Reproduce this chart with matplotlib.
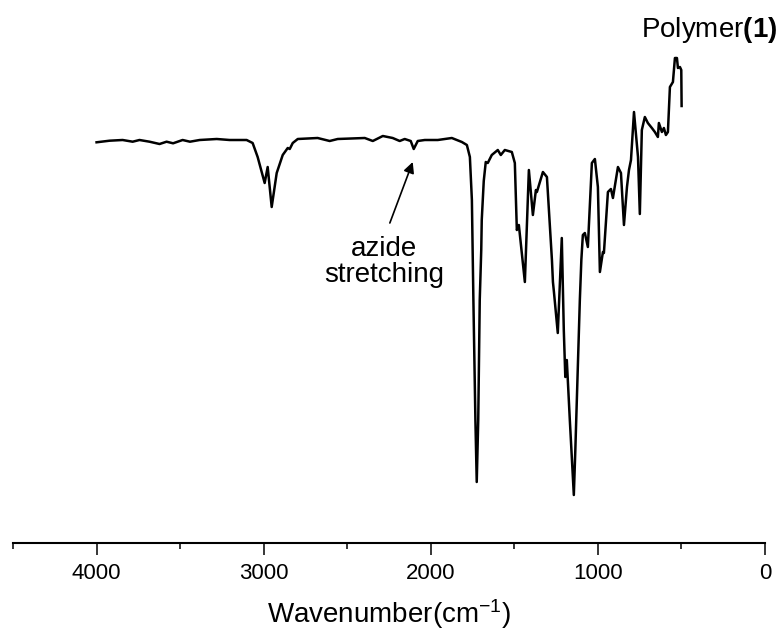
import matplotlib
matplotlib.use("Agg")
import matplotlib.pyplot as plt

plt.rcParams["font.family"] = ["Liberation Sans", "DejaVu Sans"]
plt.rcParams["mathtext.fontset"] = "custom"
plt.rcParams["mathtext.rm"] = "Liberation Sans"
plt.rcParams["mathtext.bf"] = "Liberation Sans:bold"
plt.rcParams["mathtext.it"] = "Liberation Sans:italic"
plt.rcParams["mathtext.default"] = "regular"

# IR spectrum of polymer (1) (arbitrary transmittance units)
wavenumber = [
    4000, 3922, 3844, 3784, 3743, 3683, 3623, 3581, 3542, 3485, 3441, 3383,
    3281, 3204, 3102, 3066, 3036, 2994, 2976, 2952, 2922, 2886, 2856, 2844,
    2826, 2796, 2677, 2605, 2557, 2395, 2347, 2287, 2228, 2186, 2156, 2120,
    2102, 2078, 2036, 1958, 1874, 1814, 1784, 1766, 1754, 1745, 1733, 1725,
    1716, 1707, 1698, 1695, 1683, 1671, 1659, 1635, 1599, 1581, 1557, 1515,
    1497, 1485, 1473, 1437, 1413, 1389, 1371, 1365, 1329, 1305, 1275, 1269,
    1263, 1240, 1216, 1204, 1195, 1186, 1168, 1144, 1135, 1126, 1117, 1108,
    1099, 1090, 1078, 1060, 1036, 1018, 1000, 988, 970, 964, 940, 922, 910,
    880, 862, 844, 826, 814, 802, 784, 760, 749, 737, 719, 701, 677, 659,
    641, 635, 617, 605, 593, 581, 569, 551, 539, 527, 521, 509, 501, 499,
]
transmittance = [
    400.7, 402.3, 403, 401.3, 403, 401.3, 399, 401.3, 399.7, 403, 401.3, 403,
    404, 403, 403, 400, 386, 360, 376, 336, 370, 388, 395, 394,
    400, 404, 405, 402, 404, 405, 402, 407, 405, 402, 404, 402,
    394, 402, 403, 403, 405, 401, 398, 386, 343, 243, 123, 61,
    123, 243, 293, 323, 362, 381, 380, 388, 393, 388, 393, 391,
    380, 313, 318, 261, 373, 328, 353, 351, 371, 366, 283, 261,
    251, 210, 305, 213, 166, 183, 123, 48, 93, 143, 193, 243,
    283, 308, 310, 296, 380, 384, 356, 271, 291, 290, 351, 354, 345,
    376, 370, 318, 356, 373, 383, 431, 386, 329, 413, 426, 420, 415, 411,
    406, 420, 411, 415, 408, 411, 456, 461, 485, 485, 475, 476, 473, 437,
]

fig = plt.figure(figsize=(7.82, 6.39), dpi=100)
ax = fig.add_axes([13 / 782, 96 / 639, 752 / 782, 543 / 639])
ax.plot(wavenumber, transmittance, color="black", lw=1.8)

ax.set_xlim(4500, 0)
ax.set_ylim(0, 543)
ax.set_xticks([4000, 3000, 2000, 1000, 0])
ax.set_xticks([4500, 3500, 2500, 1500, 500], minor=True)
ax.tick_params(axis="x", which="major", direction="out", length=8.6, width=1.1,
               labelsize=16, pad=6)
ax.tick_params(axis="x", which="minor", direction="out", length=4.3, width=1.1)
ax.set_yticks([])
for side in ("left", "top", "right"):
    ax.spines[side].set_visible(False)
ax.spines["bottom"].set_linewidth(1.5)
ax.set_xlabel("Wavenumber(cm$^{-1}$)", fontsize=20, labelpad=9)

ax.annotate("", xy=(2108, 381), xytext=(2245, 320),
            arrowprops=dict(arrowstyle="-|>", color="black", lw=1.2,
                            mutation_scale=16, shrinkA=0, shrinkB=0))
ax.text(2281, 281, "azide\nstretching", fontsize=20, ha="center", va="center",
        linespacing=1.0)

fig.text(777 / 782, 1 - 37 / 639, r"Polymer$\mathbf{(1)}$", fontsize=20,
         ha="right", va="baseline")

fig.savefig("out.png", dpi=100)
